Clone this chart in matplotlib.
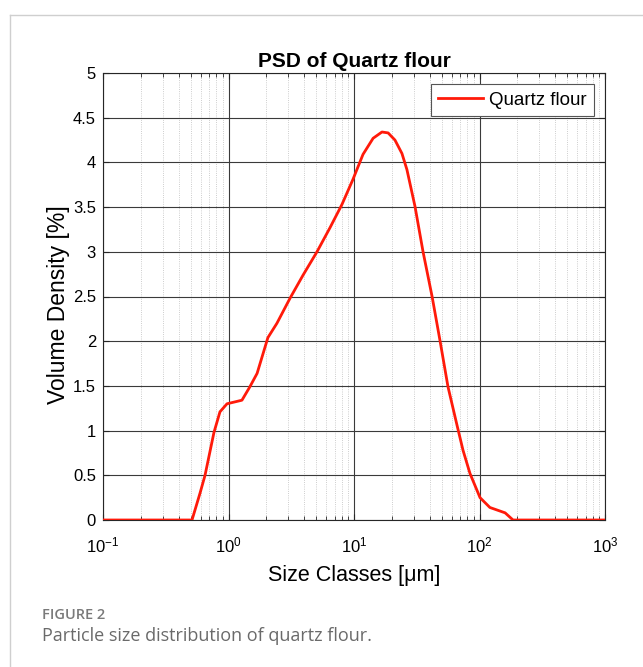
import matplotlib
matplotlib.use("Agg")
import matplotlib.pyplot as plt
from matplotlib.lines import Line2D
from matplotlib.ticker import LogLocator, NullFormatter

plt.rcParams.update({"font.family": ["Liberation Sans", "DejaVu Sans"],
                     "mathtext.fontset": "custom",
                     "mathtext.rm": "Liberation Sans",
                     "mathtext.it": "Liberation Sans"})

# particle size classes [um] and volume density [%]
size_um = [0.1, 0.512, 0.593, 0.650, 0.766, 0.855, 0.973, 1.28, 1.48, 1.69, 2.06,
           2.43, 3.09, 3.93, 5.07, 6.44, 8.02, 9.81, 11.8, 14.2, 16.7, 18.7, 21.2,
           24.1, 26.4, 30.6, 35.5, 41.9, 48.4, 56.1, 66.2, 73.9, 84.0, 101, 121,
           160, 185, 1000]
volume_pct = [0, 0, 0.30, 0.50, 0.98, 1.21, 1.30, 1.34, 1.49, 1.64, 2.04,
              2.20, 2.48, 2.74, 3.00, 3.27, 3.53, 3.81, 4.09, 4.27, 4.34, 4.33, 4.25,
              4.10, 3.92, 3.51, 3.00, 2.50, 2.01, 1.49, 1.06, 0.78, 0.52, 0.25, 0.14,
              0.08, 0, 0]
y_ticks = [0, 0.5, 1, 1.5, 2, 2.5, 3, 3.5, 4, 4.5, 5]
y_tick_labels = ["0", "0.5", "1", "1.5", "2", "2.5", "3", "3.5", "4", "4.5", "5"]

fig = plt.figure(figsize=(6.43, 6.67), dpi=100)

# card border (top and left edges)
fig.add_artist(Line2D([10 / 643, 10 / 643], [0, 1 - 15 / 667], color="#cfcfcf", lw=1))
fig.add_artist(Line2D([10 / 643, 1], [1 - 15 / 667, 1 - 15 / 667], color="#cfcfcf", lw=1))

ax = fig.add_axes([103 / 643, 147 / 667, 502 / 643, 447 / 667])
ax.plot(size_um, volume_pct, color="#ff1a0a", lw=2, label="Quartz flour", zorder=3)
ax.set_xscale("log")
ax.set_xlim(0.1, 1000)
ax.set_ylim(0, 5)
ax.set_yticks(y_ticks)
ax.set_yticklabels(y_tick_labels)
ax.xaxis.set_minor_locator(LogLocator(base=10, subs=range(2, 10), numticks=20))
ax.xaxis.set_minor_formatter(NullFormatter())

ax.grid(which="major", color="#3a3a3a", lw=0.8)
ax.grid(which="minor", axis="x", color="#bdbdbd", lw=0.6, ls=":")
ax.tick_params(which="both", direction="in", top=True, right=True, labelsize=12,
               color="#262626")
ax.tick_params(which="major", length=4)
ax.tick_params(axis="y", pad=5)
ax.tick_params(axis="x", pad=11)
ax.tick_params(which="minor", length=3)
for s in ax.spines.values():
    s.set_color("#262626")
    s.set_linewidth(0.8)

ax.set_title("PSD of Quartz flour", fontsize=15, fontweight="bold", pad=4)
ax.set_xlabel("Size Classes [\u03bcm]", fontsize=15.5, labelpad=7)
ax.set_ylabel("Volume Density [%]", fontsize=16.5)
ax.yaxis.set_label_coords(-0.066, 0.481)

leg = ax.legend(loc="upper right", fontsize=13.5, fancybox=False, framealpha=1,
                edgecolor="#555555", borderpad=0.4, handlelength=2.4, handletextpad=0.3,
                borderaxespad=0.6)
leg.get_frame().set_linewidth(0.8)

fig.text(42 / 643, 1 - 615 / 667, "FIGURE 2", fontsize=10.5, color="#7a7a7a",
         family=["Open Sans", "DejaVu Sans"], fontweight="semibold", va="center")
fig.text(42 / 643, 1 - 636 / 667, "Particle size distribution of quartz flour.", fontsize=13,
         color="#6a6a6a", family=["Open Sans", "DejaVu Sans"], va="center")

fig.savefig("out.png", dpi=100)
